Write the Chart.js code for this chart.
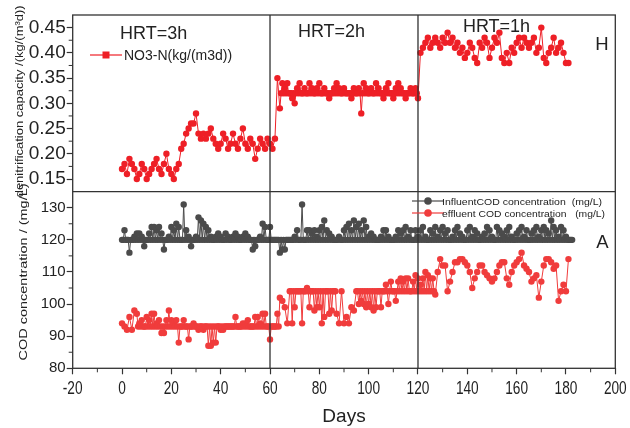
<!DOCTYPE html>
<html>
<head>
<meta charset="utf-8">
<script src="https://cdn.jsdelivr.net/npm/chart.js@4.4.1/dist/chart.umd.min.js"></script>
<style>
  html, body { margin: 0; padding: 0; background: #fff; }
  #wrap { width: 630px; height: 428px; }
</style>
</head>
<body>
<div id="wrap"><canvas id="chart" width="630" height="428"></canvas></div>
<script>
// tick labels
const dayTicks = [-20, 0, 20, 40, 60, 80, 100, 120, 140, 160, 180, 200];
const no3Ticks = [0.15, 0.20, 0.25, 0.30, 0.35, 0.40, 0.45];
const codTicks = [80, 90, 100, 110, 120, 130];

// HRT phases (day where each phase ends)
const hrtBounds = [60, 120];
const hrtLabels = ["HRT=3h", "HRT=2h", "HRT=1h"];

// denitrification capacity, one value per day from day 0
const no3n = [
  0.17, 0.18, 0.16, 0.19, 0.18, 0.17, 0.15, 0.16, 0.18, 0.17,
  0.15, 0.16, 0.17, 0.18, 0.19, 0.17, 0.16, 0.18, 0.20, 0.17,
  0.16, 0.15, 0.17, 0.18, 0.21, 0.22, 0.24, 0.25, 0.26, 0.26,
  0.28, 0.24, 0.23, 0.24, 0.23, 0.24, 0.25, 0.23, 0.22, 0.21,
  0.22, 0.24, 0.23, 0.21, 0.22, 0.24, 0.22, 0.21, 0.23, 0.25,
  0.22, 0.21, 0.23, 0.22, 0.19, 0.21, 0.23, 0.22, 0.21, 0.23,
  0.22, 0.21, 0.23, 0.35, 0.29, 0.34, 0.33, 0.34, 0.32, 0.31,
  0.30, 0.33, 0.34, 0.32, 0.33, 0.32, 0.34, 0.33, 0.32, 0.33,
  0.34, 0.32, 0.33, 0.32, 0.31, 0.32, 0.33, 0.34, 0.33, 0.32,
  0.33, 0.32, 0.32, 0.31, 0.33, 0.32, 0.33, 0.28, 0.34, 0.33,
  0.32, 0.33, 0.32, 0.34, 0.33, 0.32, 0.31, 0.33, 0.34, 0.32,
  0.31, 0.33, 0.34, 0.33, 0.32, 0.31, 0.32, 0.33, 0.32, 0.33,
  0.31, 0.40, 0.41, 0.42, 0.43, 0.41, 0.42, 0.43, 0.42, 0.41,
  0.43, 0.42, 0.44, 0.42, 0.43, 0.41, 0.42, 0.40, 0.41, 0.39,
  0.40, 0.42, 0.41, 0.39, 0.38, 0.42, 0.41, 0.43, 0.42, 0.39,
  0.41, 0.43, 0.42, 0.44, 0.39, 0.38, 0.40, 0.38, 0.41, 0.40,
  0.42, 0.43, 0.41, 0.43, 0.42, 0.41, 0.42, 0.43, 0.40, 0.41,
  0.45, 0.39, 0.38, 0.40, 0.41, 0.43, 0.40, 0.41, 0.42, 0.40,
  0.38, 0.38
];

// influent COD (mg/L), one value per day from day 0
const influentCod = [
  120, 123, 120, 116, 120, 121, 122, 122, 121, 118,
  120, 122, 124, 124, 123, 124, 122, 117, 120, 121,
  124, 123, 125, 124, 120, 131, 123, 121, 118, 120,
  121, 127, 126, 125, 124, 123, 121, 120, 121, 122,
  121, 120, 122, 121, 120, 121, 122, 121, 120, 121,
  122, 121, 120, 117, 118, 120, 121, 125, 124, 120,
  124, 120, 120, 120, 116, 117, 117, 120, 120, 120,
  121, 123, 120, 131, 120, 123, 123, 122, 123, 121,
  123, 124, 126, 123, 122, 121, 120, 120, 121, 120,
  123, 124, 125, 123, 126, 124, 125, 123, 126, 124,
  121, 122, 121, 120, 120, 121, 123, 123, 121, 120,
  120, 121, 123, 122, 123, 124, 121, 123, 120, 123,
  121, 123, 124, 121, 120, 123, 122, 124, 121, 123,
  124, 122, 123, 120, 121, 123, 124, 122, 121, 120,
  123, 124, 121, 123, 122, 120, 121, 122, 124, 123,
  121, 120, 124, 123, 122, 121, 123, 124, 121, 120,
  122, 123, 124, 121, 123, 120, 122, 123, 124, 121,
  123, 124, 123, 122, 126, 124, 123, 121, 124, 123,
  121, 120, 120
];

// effluent COD (mg/L), one value per day from day 0
const effluentCod = [
  94, 93, 92, 96, 92, 98, 97, 94, 95, 93,
  96, 95, 97, 97, 94, 95, 91, 91, 95, 98,
  95, 94, 95, 88, 93, 95, 93, 89, 93, 94,
  93, 92, 93, 92, 93, 87, 87, 88, 88, 93,
  92, 92, 93, 93, 93, 93, 96, 93, 93, 94,
  94, 95, 93, 93, 96, 96, 94, 97, 97, 93,
  89, 93, 93, 97, 102, 101, 99, 94, 104, 94,
  99, 104, 104, 94, 104, 105, 99, 104, 98, 99,
  99, 94, 96, 104, 97, 98, 104, 97, 94, 104,
  94, 96, 94, 99, 98, 104, 100, 101, 100, 99,
  100, 99, 98, 99, 104, 99, 104, 106, 100, 107,
  104, 101, 107, 108, 107, 108, 108, 104, 107, 109,
  108, 106, 108, 110, 109, 108, 108, 103, 110, 114,
  112, 112, 104, 107, 110, 113, 113, 114, 114, 113,
  112, 110, 105, 108, 110, 112, 112, 110, 109, 108,
  107, 108, 110, 112, 113, 113, 108, 106, 110, 112,
  113, 114, 116, 112, 111, 110, 107, 108, 109, 102,
  107, 112, 114, 114, 113, 111, 112, 101, 104, 106,
  104, 114
];

// extra half-day readings sitting on a steady level: [first day, last day, level]
const no3Base = [[64, 119, 0.32]];
const influentBase = [[0, 182, 120]];
const effluentBase = [[6, 63, 93], [68, 86, 104], [95, 126, 104]];

const RED = "#ee1f26";
const CORAL = "#f03c3c";
const GREY = "#4b4b4b";
const INK = "#222";
const FONT = '"Liberation Sans", Arial, sans-serif';

function series(values, bases) {
  const pts = [];
  values.forEach((v, day) => {
    pts.push({ x: day, y: v });
    const b = bases.find((r) => day >= r[0] && day <= r[1]);
    if (b) pts.push({ x: day + 0.5, y: b[2] });
  });
  return pts;
}

function dataset(label, data, axis, color) {
  return {
    label: label,
    data: data,
    yAxisID: axis,
    borderColor: color,
    backgroundColor: color,
    borderWidth: 1,
    pointRadius: 3.2,
    pointBorderWidth: 0,
    pointBackgroundColor: color,
    tension: 0,
  };
}

function text(ctx, str, x, y, size, opts) {
  opts = opts || {};
  ctx.save();
  ctx.translate(x, y);
  if (opts.rotate) ctx.rotate(opts.rotate);
  ctx.font = size + "px " + FONT;
  ctx.fillStyle = opts.color || INK;
  ctx.textAlign = opts.align || "left";
  ctx.textBaseline = opts.baseline || "alphabetic";
  if (opts.width) ctx.scale(opts.width / ctx.measureText(str).width, 1);
  else if (opts.sx) ctx.scale(opts.sx, 1);
  ctx.fillText(str, 0, 0);
  ctx.restore();
}

function legendMark(ctx, x, y, color, square) {
  ctx.save();
  ctx.strokeStyle = color;
  ctx.fillStyle = color;
  ctx.lineWidth = 1.2;
  ctx.beginPath();
  ctx.moveTo(x - 16, y);
  ctx.lineTo(x + 16, y);
  ctx.stroke();
  ctx.beginPath();
  if (square) ctx.rect(x - 3.5, y - 3.5, 7, 7);
  else ctx.arc(x, y, 3.8, 0, Math.PI * 2);
  ctx.fill();
  ctx.restore();
}

const overlay = {
  id: "overlay",
  afterDatasetsDraw(chart) {
    const { ctx, chartArea: a, scales } = chart;
    const x = scales.x, top = scales.yTop, bot = scales.yBottom;
    ctx.save();
    ctx.strokeStyle = "#333";
    ctx.lineWidth = 1.3;
    ctx.strokeRect(a.left, a.top, a.right - a.left, a.bottom - a.top);
    ctx.beginPath();
    ctx.moveTo(a.left, top.bottom);
    ctx.lineTo(a.right, top.bottom);
    hrtBounds.forEach((d) => {
      const px = x.getPixelForValue(d);
      ctx.moveTo(px, a.top);
      ctx.lineTo(px, a.bottom);
    });
    ctx.stroke();

    // minor ticks half way between the labelled ones
    ctx.lineWidth = 1;
    ctx.beginPath();
    for (let i = 1; i < dayTicks.length; i++) {
      const px = x.getPixelForValue((dayTicks[i - 1] + dayTicks[i]) / 2);
      ctx.moveTo(px, a.bottom);
      ctx.lineTo(px, a.bottom + 4);
    }
    [[top, no3Ticks], [bot, codTicks]].forEach(([s, t]) => {
      for (let i = 1; i < t.length; i++) {
        const py = s.getPixelForValue((t[i - 1] + t[i]) / 2);
        ctx.moveTo(a.left - 4, py);
        ctx.lineTo(a.left, py);
      }
    });
    ctx.stroke();
    ctx.restore();

    // x tick labels (narrow lettering as in the original)
    dayTicks.forEach((d) => {
      text(ctx, String(d), x.getPixelForValue(d), a.bottom + 26, 19, { align: "center", sx: 0.72 });
    });
    text(ctx, "Days", (a.left + a.right) / 2, 421.5, 19, { align: "center" });

    // axis titles
    text(ctx, "denitrification capacity /(kg/(m\u00b3d))", 23, (top.top + top.bottom) / 2 - 2, 11.5,
      { rotate: -Math.PI / 2, align: "center", width: 192 });
    text(ctx, "COD concentration / (mg/L)", 26.5, (bot.top + bot.bottom) / 2 - 8, 11.5,
      { rotate: -Math.PI / 2, align: "center", width: 177 });

    // phase labels
    text(ctx, hrtLabels[0], x.getPixelForValue(-0.8), a.top + 24.3, 18);
    text(ctx, hrtLabels[1], x.getPixelForValue(71.3), a.top + 22.3, 18);
    text(ctx, hrtLabels[2], x.getPixelForValue(138.2), a.top + 16.7, 18);
    text(ctx, "H", a.right - 20, a.top + 35, 18.5);
    text(ctx, "A", a.right - 19, bot.top + 56.5, 18.5);

    // legends
    legendMark(ctx, 106, 55, RED, true);
    text(ctx, "NO3-N(kg/(m3d))", 124, 60, 14);
    legendMark(ctx, 428, 201, GREY, false);
    text(ctx, "InfluentCOD concentration  (mg/L)", 442, 204.5, 9.5, { width: 160 });
    legendMark(ctx, 428, 213, CORAL, false);
    text(ctx, "effluent COD concentration   (mg/L)", 442, 216.5, 9.5, { width: 163 });
  },
};

const tickGrid = { drawOnChartArea: false, drawTicks: true, tickLength: 6, tickColor: "#333", tickWidth: 1.2 };

new Chart(document.getElementById("chart"), {
  type: "line",
  data: {
    datasets: [
      dataset("NO3-N(kg/(m3d))", series(no3n, no3Base), "yTop", RED),
      dataset("Influent COD concentration (mg/L)", series(influentCod, influentBase), "yBottom", GREY),
      dataset("effluent COD concentration (mg/L)", series(effluentCod, effluentBase), "yBottom", CORAL),
    ],
  },
  options: {
    responsive: false,
    animation: false,
    layout: { padding: { left: 0, right: 14.7, top: 15, bottom: 0 } },
    plugins: { legend: { display: false }, tooltip: { enabled: false } },
    scales: {
      x: {
        type: "linear",
        min: -20,
        max: 200,
        afterBuildTicks: (s) => { s.ticks = dayTicks.map((v) => ({ value: v })); },
        afterFit: (s) => { s.height = 59.7; },
        grid: tickGrid,
        border: { display: false },
        ticks: { display: false },
      },
      yBottom: {
        type: "linear",
        position: "left",
        stack: "panels",
        stackWeight: 1,
        min: 80,
        max: 135,
        afterBuildTicks: (s) => { s.ticks = codTicks.map((v) => ({ value: v })); },
        afterFit: (s) => { s.width = 72.7; },
        grid: tickGrid,
        border: { display: false },
        ticks: { padding: 1, autoSkip: false, color: INK, font: { family: FONT, size: 15 } },
      },
      yTop: {
        type: "linear",
        position: "left",
        stack: "panels",
        stackWeight: 1,
        min: 0.125,
        max: 0.475,
        afterBuildTicks: (s) => { s.ticks = no3Ticks.map((v) => ({ value: v })); },
        afterFit: (s) => { s.width = 72.7; },
        grid: tickGrid,
        border: { display: false },
        ticks: { padding: 1, autoSkip: false, color: INK, font: { family: FONT, size: 19 }, callback: (v) => v.toFixed(2) },
      },
    },
  },
  plugins: [overlay],
});
</script>
</body>
</html>
